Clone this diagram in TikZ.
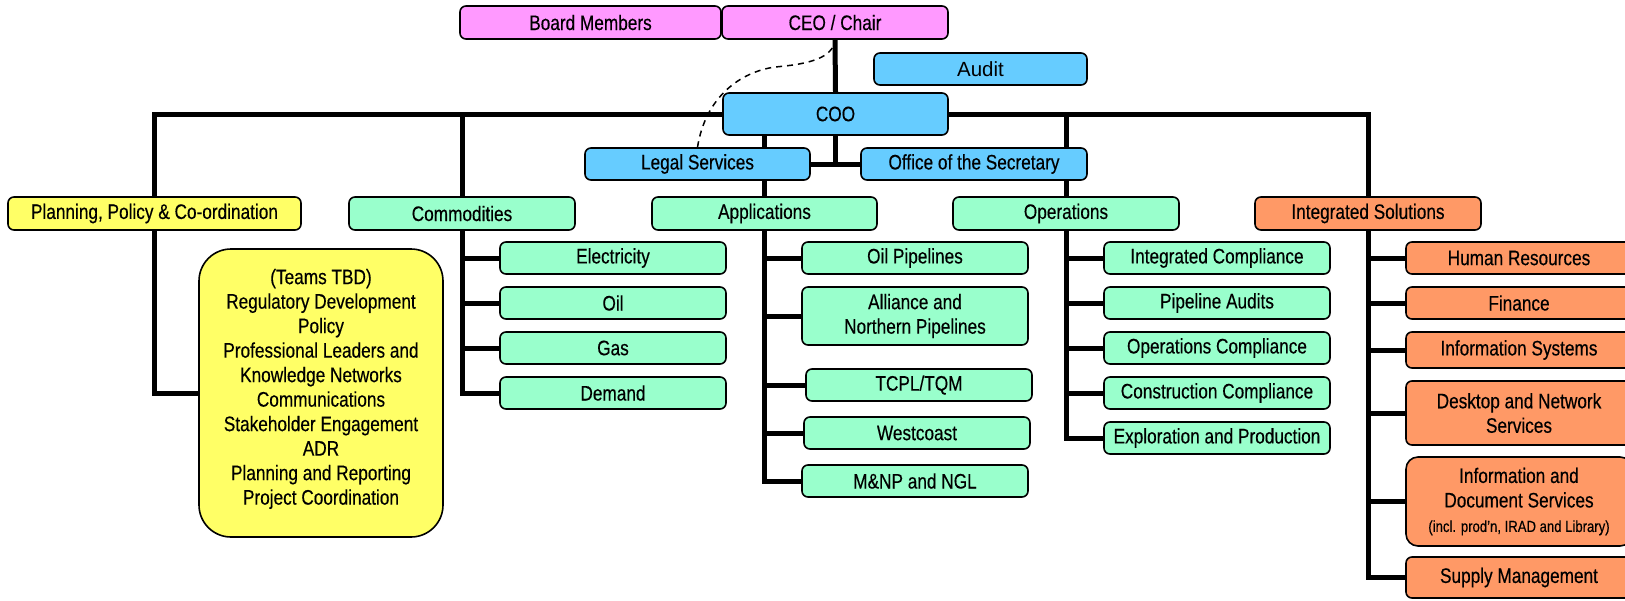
\documentclass[tikz,border=0pt]{standalone}
\usepackage{fontspec}
\setmainfont{Liberation Sans}[FakeStretch=0.82, FakeBold=0.35]
\newfontfamily\auditfont{Liberation Sans}
\usepackage{tikz}

\pgfdeclarelayer{background}
\pgfsetlayers{background,main}

\definecolor{boardpink}{HTML}{FF99FF}
\definecolor{execblue}{HTML}{66CCFF}
\definecolor{deptgreen}{HTML}{99FFCC}
\definecolor{planyellow}{HTML}{FFFF66}
\definecolor{solorange}{HTML}{FF9966}

\begin{document}
\begin{tikzpicture}[x=1pt, y=-1pt, font=\fontsize{21}{24.5}\selectfont,
    unit/.style={draw=black, line width=1.6pt, rounded corners=6pt, align=center,
                 inner sep=0pt, minimum width=226pt, minimum height=32pt},
    pinkunit/.style={unit, fill=boardpink},
    blueunit/.style={unit, fill=execblue},
    greenunit/.style={unit, fill=deptgreen},
    yellowunit/.style={unit, fill=planyellow},
    orangeunit/.style={unit, fill=solorange},
    link/.style={line width=5pt},
    dashlink/.style={line width=1.5pt, dash pattern=on 6pt off 5pt}]
    \clip (0,0) rectangle (1625,600);

    \node[pinkunit, minimum width=261pt, minimum height=33pt]    (BM)   at ( 590.5,  22.5) {Board Members};
    \node[pinkunit, minimum height=33pt]                         (CEO)  at ( 835.0,  22.5) {CEO / Chair};
    \node[blueunit, minimum width=213pt, font=\auditfont\fontsize{20.5}{24}\selectfont] (AUD) at ( 980.5,  69.0) {Audit};
    \node[blueunit, minimum width=225pt, minimum height=42pt]    (COO)  at ( 835.5, 114.0) {COO};
    \node[blueunit, minimum width=225pt]                         (LEG)  at ( 697.5, 164.0) {Legal Services};
    \node[blueunit]                                              (SEC)  at ( 974.0, 164.0) {Office of the Secretary};

    \node[yellowunit, minimum width=293pt, minimum height=33pt]  (PPC)  at ( 154.5, 213.5) {Planning, Policy \& Co-ordination};
    \node[greenunit, minimum height=33pt]                        (COM)  at ( 462.0, 213.5) {Commodities};
    \node[greenunit, minimum width=225pt, minimum height=33pt]   (APP)  at ( 764.5, 213.5) {Applications};
    \node[greenunit, minimum height=33pt]                        (OPS)  at (1066.0, 213.5) {Operations};
    \node[orangeunit, minimum height=33pt]                       (INT)  at (1368.0, 213.5) {Integrated Solutions};

    \node[yellowunit, rounded corners=32pt, minimum width=244pt, minimum height=288pt] (TBD) at (321.0, 393.0)
        {(Teams TBD)\\Regulatory Development\\Policy\\Professional Leaders and\\Knowledge Networks\\Communications\\Stakeholder Engagement\\ADR\\Planning and Reporting\\Project Coordination\\[-12pt]\mbox{}};

    % Commodities
    \node[greenunit] (ELE) at ( 613.0, 258.0) {Electricity};
    \node[greenunit] (OIL) at ( 613.0, 303.0) {Oil};
    \node[greenunit] (GAS) at ( 613.0, 348.0) {Gas};
    \node[greenunit] (DEM) at ( 613.0, 393.0) {Demand};

    % Applications
    \node[greenunit]                    (OPL) at ( 915.0, 258.0) {Oil Pipelines};
    \node[greenunit, minimum height=58pt] (ANP) at ( 915.0, 316.0) {Alliance and\\Northern Pipelines};
    \node[greenunit]                    (TCP) at ( 919.0, 385.0) {TCPL/TQM};
    \node[greenunit]                    (WCO) at ( 917.0, 433.0) {Westcoast};
    \node[greenunit]                    (MNP) at ( 915.0, 481.0) {M\&NP and NGL};

    % Operations
    \node[greenunit] (ICO) at (1217.0, 258.0) {Integrated Compliance};
    \node[greenunit] (PAU) at (1217.0, 303.0) {Pipeline Audits};
    \node[greenunit] (OCO) at (1217.0, 348.0) {Operations Compliance};
    \node[greenunit] (CCO) at (1217.0, 393.0) {Construction Compliance};
    \node[greenunit] (EXP) at (1217.0, 438.0) {Exploration and Production};

    % Integrated Solutions
    \node[orangeunit]                     (HRS) at (1519.0, 258.0) {Human Resources};
    \node[orangeunit]                     (FIN) at (1519.0, 303.0) {Finance};
    \node[orangeunit, minimum height=36pt] (ISY) at (1519.0, 350.0) {Information Systems};
    \node[orangeunit, minimum height=64pt] (DNS) at (1519.0, 413.0) {Desktop and Network\\Services};
    \node[orangeunit, minimum height=89pt, rounded corners=12pt] (IDS) at (1519.0, 501.5)
        {Information and\\Document Services\\{\fontsize{16}{18}\selectfont (incl. prod’n, IRAD and Library)}};
    \node[orangeunit, minimum height=41pt] (SUP) at (1519.0, 577.5) {Supply Management};

    \coordinate (DM) at (775, 67);
    \draw[dashlink] (LEG.north) .. controls +(8,-50) and +(-35,5) .. (DM)
                                .. controls +(35,-3) and +(-2,18) .. (CEO.south);

    \begin{pgfonlayer}{background}
        \draw[link] (CEO.south) -- (COO.north);
        \draw[link] (COO.south) |- (LEG.east);
        \draw[link] (COO.south) |- (SEC.west);
        \draw[link] (COO.west) -| (PPC.north);
        \draw[link] (COO.west) -| (COM.north);
        \draw[link] (COO.east) -| (OPS.north);
        \draw[link] (COO.east) -| (INT.north);
        \draw[link] (COO.south -| APP.north) -- (APP.north);
        \draw[link] (PPC.south) |- (TBD.west);
        \foreach \c in {ELE, OIL, GAS, DEM}
            \draw[link] (COM.south) |- (\c.west);
        \foreach \c in {OPL, ANP, TCP, WCO, MNP}
            \draw[link] (APP.south) |- (\c.west);
        \foreach \c in {ICO, PAU, OCO, CCO, EXP}
            \draw[link] (OPS.south) |- (\c.west);
        \foreach \c in {HRS, FIN, ISY, DNS, IDS, SUP}
            \draw[link] (INT.south) |- (\c.west);
    \end{pgfonlayer}
\end{tikzpicture}
\end{document}
